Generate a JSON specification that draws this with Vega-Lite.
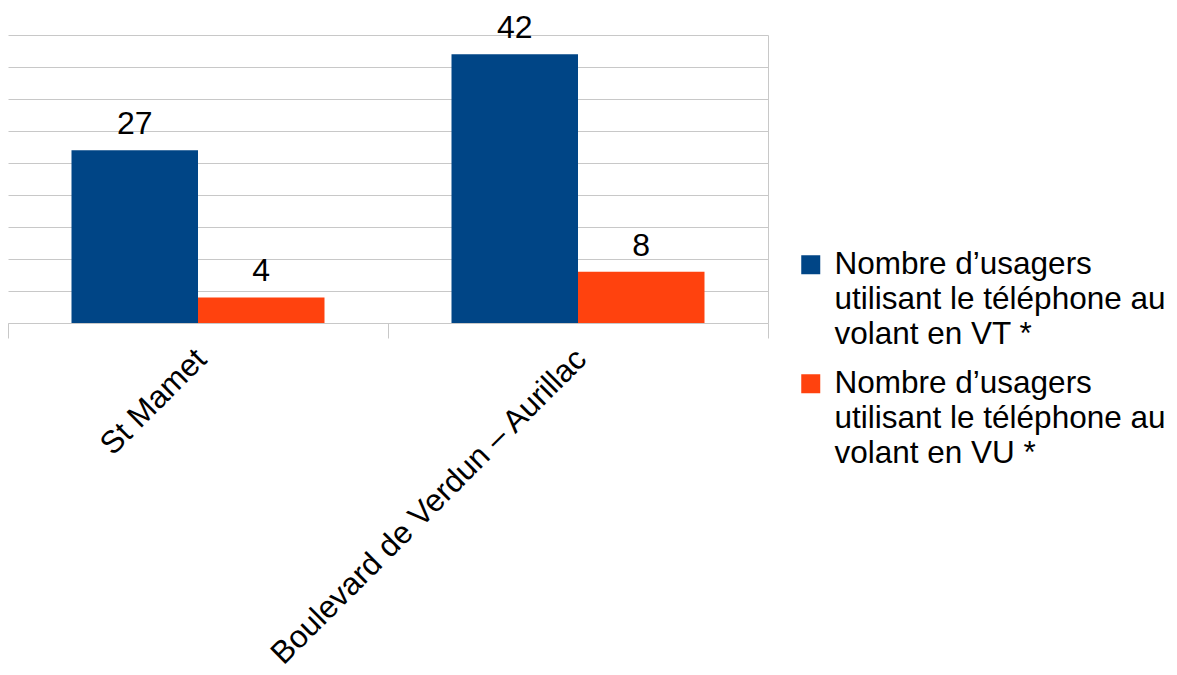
{
  "$schema": "https://vega.github.io/schema/vega-lite/v6.json",
  "width": 760,
  "height": 288,
  "autosize": {"type": "none"},
  "padding": {"left": 8, "top": 35, "right": 409, "bottom": 352},
  "background": "white",
  "config": {
    "view": {"stroke": null},
    "font": "Liberation Sans",
    "text": {"font": "Liberation Sans"}
  },
  "data": {
    "values": [
      {"site": "St Mamet", "serie": "Nombre d’usagers utilisant le téléphone au volant en VT *", "valeur": 27},
      {"site": "St Mamet", "serie": "Nombre d’usagers utilisant le téléphone au volant en VU *", "valeur": 4},
      {"site": "Boulevard de Verdun – Aurillac", "serie": "Nombre d’usagers utilisant le téléphone au volant en VT *", "valeur": 42},
      {"site": "Boulevard de Verdun – Aurillac", "serie": "Nombre d’usagers utilisant le téléphone au volant en VU *", "valeur": 8}
    ]
  },
  "encoding": {
    "x": {
      "field": "site",
      "type": "nominal",
      "sort": ["St Mamet", "Boulevard de Verdun – Aurillac"],
      "scale": {"paddingInner": 0, "paddingOuter": 0},
      "axis": {
        "title": null,
        "labelAngle": -45,
        "labelAlign": "right",
        "labelBaseline": "top",
        "labelFontSize": 31.5,
        "labelFont": "Liberation Sans",
        "labelColor": "#000000",
        "labelPadding": 5,
        "labelOffset": -8,
        "labelLimit": 0,
        "tickBand": "extent",
        "tickColor": "#c8c8c8",
        "tickSize": 15,
        "domainColor": "#c8c8c8",
        "grid": false
      }
    },
    "xOffset": {
      "field": "serie",
      "type": "nominal",
      "scale": {"paddingInner": 0, "paddingOuter": 0.502}
    }
  },
  "layer": [
    {
      "mark": {"type": "bar"},
      "encoding": {
        "y": {
          "field": "valeur",
          "type": "quantitative",
          "scale": {"domain": [0, 45], "nice": false},
          "axis": {
            "title": null,
            "labels": false,
            "ticks": false,
            "domain": false,
            "grid": true,
            "gridColor": "#c8c8c8",
            "values": [0, 5, 10, 15, 20, 25, 30, 35, 40, 45]
          }
        },
        "color": {
          "field": "serie",
          "type": "nominal",
          "scale": {"range": ["#004586", "#ff420e"]},
          "legend": {
            "title": null,
            "orient": "none",
            "legendX": 787,
            "legendY": 214,
            "symbolType": "square",
            "symbolSize": 361,
            "symbolStrokeWidth": 0,
            "labelFontSize": 31.5,
            "labelFont": "Liberation Sans",
            "labelColor": "#000000",
            "labelLimit": 0,
            "labelOffset": 8,
            "rowPadding": 16,
            "labelExpr": "split(replace(replace(datum.label, ' utilisant', '|utilisant'), ' volant', '|volant'), '|')",
            "encode": {"labels": {"update": {"lineHeight": {"value": 35}}}}
          }
        }
      }
    },
    {
      "mark": {"type": "text", "fontSize": 32, "font": "Liberation Sans", "color": "#000000", "baseline": "alphabetic", "dy": -16},
      "encoding": {
        "y": {
          "field": "valeur",
          "type": "quantitative",
          "scale": {"domain": [0, 45], "nice": false},
          "axis": null
        },
        "text": {"field": "valeur", "type": "quantitative"}
      }
    },
    {
      "mark": {"type": "rule", "opacity": 0},
      "encoding": {
        "y": {
          "field": "valeur",
          "type": "quantitative",
          "scale": {"domain": [0, 45], "nice": false},
          "axis": {
            "orient": "right",
            "title": null,
            "labels": false,
            "ticks": false,
            "grid": false,
            "domain": true,
            "domainColor": "#c8c8c8"
          }
        }
      }
    }
  ],
  "resolve": {"axis": {"y": "independent"}}
}
